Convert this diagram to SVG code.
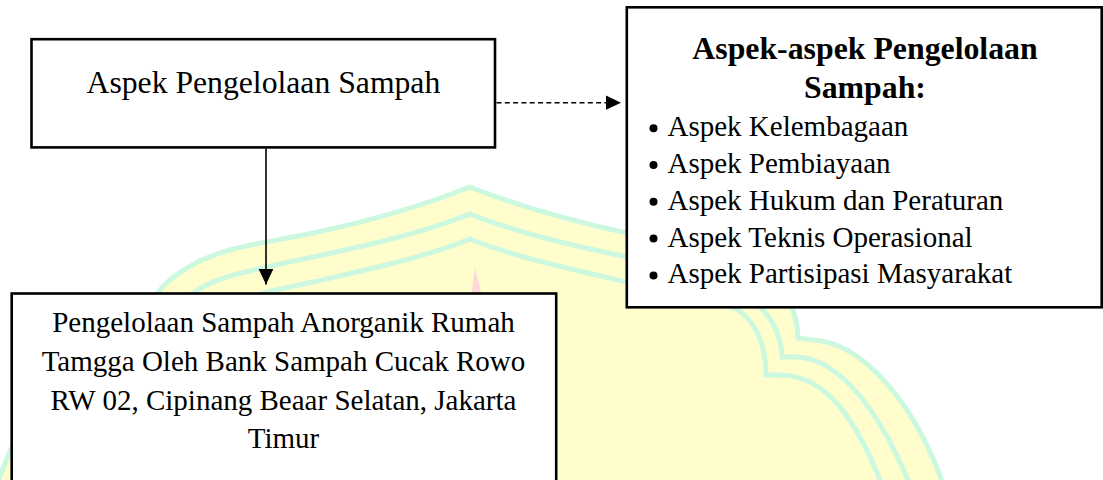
<svg xmlns="http://www.w3.org/2000/svg" width="1103" height="480" viewBox="0 0 1103 480">
  <style>
    .box { fill: #ffffff; stroke: #000000; stroke-width: 2.6; }
    .txt { font-family: "Liberation Serif", "Times New Roman", serif; fill: #000000; }
    .title { font-size: 31.8px; font-weight: bold; text-anchor: middle; }
    .main { font-size: 31.7px; text-anchor: middle; }
    .body { font-size: 29px; }
    .center { text-anchor: middle; }
    .edge { fill: none; stroke: #000000; stroke-width: 1.6; }
    .dashed { stroke-dasharray: 5 3.3; stroke-width: 1.4; }
    .dome-fill { fill: #fffdcc; stroke: none; }
    .dome-line { fill: none; stroke: #ccf8e0; stroke-width: 5; }
  </style>
  <defs>
    <marker id="arrow" markerUnits="userSpaceOnUse" markerWidth="16" markerHeight="15" refX="15.5" refY="7.4" orient="auto">
      <path d="M0,0 L15.5,7.4 L0,14.8 Z" fill="#000000"/>
    </marker>
  </defs>

  <rect x="0" y="0" width="1103" height="480" fill="#ffffff"/>

  <!-- background dome emblem -->
  <g id="emblem">
    <path class="dome-fill" d="M470,187 C520,207 580,223 627,233 C665,241 705,249 740,262 C775,275 797,300 798,338 L813,340 C860,342 915,400 945,490 L-5,490 C25,400 80,342 127,340 L142,338 C143,320 150,300 157,294 C170,275 200,258 230,250 C250,244 280,240 313,233 C360,223 420,207 470,187 Z"/>
    <path class="dome-line" d="M945,490 C915,400 860,342 813,340 L798,338 C797,300 775,275 740,262 C705,249 665,241 627,233 C580,223 520,207 470,187 C420,207 360,223 313,233 C280,240 250,244 230,250 C200,258 170,275 157,294 C150,300 143,320 142,338 L127,340 C80,342 25,400 -5,490"/>
    <path class="dome-line" d="M912,490 C880,410 840,360 798,357 L782,357 C781,325 760,298 725,285 C695,272 665,265 627,257 C580,247 520,234 470,214 C420,234 360,247 313,257 C280,264 250,270 230,276 C210,282 195,290 185,300 C170,315 160,335 158,357 L142,357 C100,360 60,410 28,490"/>
    <path class="dome-line" d="M884,490 C855,415 825,376 781,375 L766,375 C766,345 755,316 730,306 C705,298 665,290 627,282 C580,271 520,259 470,239 C420,259 360,271 313,282 C290,287 272,290 260,294 C235,302 200,330 190,375 L175,375 C130,376 95,415 62,490"/>
    <path d="M475,268 L471.5,294 L481.5,294 Z" fill="#ffd6da"/>
  </g>

  <!-- connectors -->
  <g id="connectors">
    <line class="edge" x1="266" y1="148.5" x2="266" y2="284.5" marker-end="url(#arrow)"/>
    <line class="edge dashed" x1="496.5" y1="102.7" x2="621" y2="102.7" marker-end="url(#arrow)"/>
  </g>

  <g id="node-aspek">
    <rect class="box" x="31.5" y="39.2" width="463.5" height="108.2"/>
    <text class="txt main" x="263.4" y="92.7">Aspek Pengelolaan Sampah</text>
  </g>

  <g id="node-aspek-list">
    <rect class="box" x="626.8" y="7.3" width="474.9" height="300"/>
    <text class="txt title" x="865" y="58.5">Aspek-aspek Pengelolaan</text>
    <text class="txt title" x="865" y="97.5">Sampah:</text>
    <g fill="#000000">
      <circle cx="653.5" cy="128.2" r="4"/>
      <circle cx="653.5" cy="165" r="4"/>
      <circle cx="653.5" cy="201.8" r="4"/>
      <circle cx="653.5" cy="238.6" r="4"/>
      <circle cx="653.5" cy="275.4" r="4"/>
    </g>
    <text class="txt body" x="667.5" y="136.2">Aspek Kelembagaan</text>
    <text class="txt body" x="667.5" y="173">Aspek Pembiayaan</text>
    <text class="txt body" x="667.5" y="209.8">Aspek Hukum dan Peraturan</text>
    <text class="txt body" x="667.5" y="246.6">Aspek Teknis Operasional</text>
    <text class="txt body" x="667.5" y="283.4">Aspek Partisipasi Masyarakat</text>
  </g>

  <g id="node-bank-sampah">
    <rect class="box" x="11.7" y="293.5" width="544.5" height="200"/>
    <text class="txt body center" x="283.5" y="331.7">Pengelolaan Sampah Anorganik Rumah</text>
    <text class="txt body center" x="283.5" y="370.6">Tamgga Oleh Bank Sampah Cucak Rowo</text>
    <text class="txt body center" x="283.5" y="409.5">RW 02, Cipinang Beaar Selatan, Jakarta</text>
    <text class="txt body center" x="283.5" y="448.3">Timur</text>
  </g>
</svg>
